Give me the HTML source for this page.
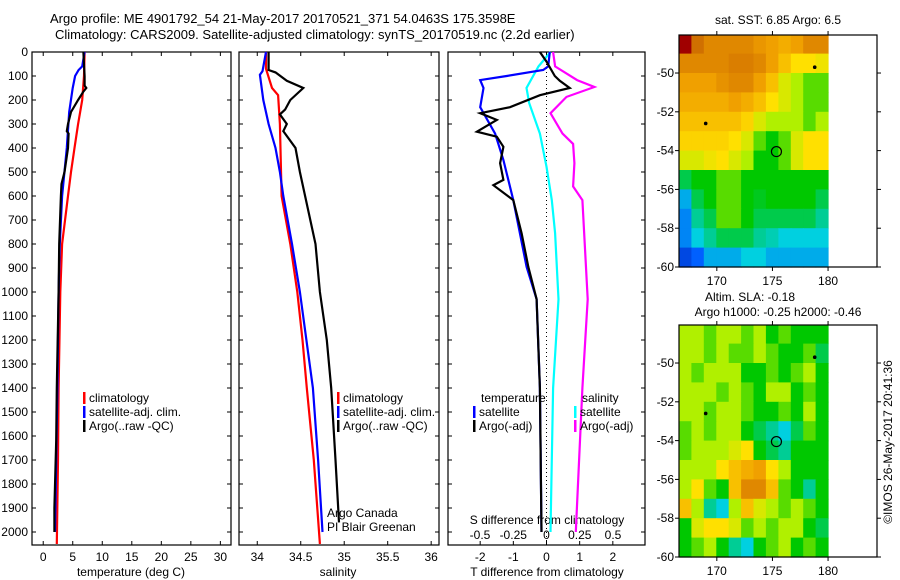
<!DOCTYPE html>
<html><head><meta charset="utf-8"><style>
body{margin:0;background:#fff;}
svg{display:block;font-family:"Liberation Sans",sans-serif;}
text{font-size:12px;fill:#000;}
</style></head><body>
<svg id="fig" width="900" height="580" viewBox="0 0 900 580">
<text x="50" y="23" style="font-size:13px">Argo profile: ME 4901792_54 21-May-2017 20170521_371 54.0463S 175.3598E</text>
<text x="55" y="39" style="font-size:13px">Climatology: CARS2009. Satellite-adjusted climatology: synTS_20170519.nc (2.2d earlier)</text>
<text x="892" y="442" transform="rotate(-90 892 442)" text-anchor="middle">©IMOS 26-May-2017 20:41:36</text>
</svg>
<script>
// ---------- data ----------
const depthTicks=[0,100,200,300,400,500,600,700,800,900,1000,1100,1200,1300,1400,1500,1600,1700,1800,1900,2000];
const tempTicks=[0,5,10,15,20,25,30];
const salTicks=[34,34.5,35,35.5,36];
const tdiffTicks=[-2,-1,0,1,2];
const sdiffTicks=[-0.5,-0.25,0,0.25,0.5];
const sdiffTickLabels=["-0.5","-0.25","0","0.25","0.5"];

const tClimDepth=[0,100,200,300,400,500,600,800,1000,1400,1700,2050];
const tClimVal=[7.0,6.9,6.6,5.9,5.3,4.7,4.2,3.2,2.9,2.6,2.5,2.3];
const tSatDepth=[0,60,75,100,150,250,400,600,800,1000,1400,1700,2000];
const tSatVal=[7.0,6.6,6.0,5.4,5.0,4.4,4.0,3.2,2.8,2.6,2.4,2.2,2.0];
const tArgoDepth=[0,100,140,150,165,200,250,300,330,340,400,500,550,600,800,1000,1400,1620,1900,2000];
const tArgoVal=[6.8,7.0,7.0,7.3,6.8,5.9,4.7,4.2,4.0,4.3,4.2,3.6,3.1,3.0,2.7,2.6,2.3,2.2,1.9,1.9];

const sClimDepth=[0,70,150,180,300,600,800,1000,1200,1400,1700,2050];
const sClimVal=[34.10,34.10,34.17,34.24,34.26,34.28,34.38,34.46,34.52,34.57,34.65,34.72];
const sSatDepth=[0,80,95,200,300,400,500,600,800,1000,1400,1700,2000];
const sSatVal=[34.10,34.06,34.03,34.07,34.13,34.21,34.26,34.30,34.40,34.49,34.64,34.70,34.75];
const sArgoDepth=[0,75,85,120,150,200,240,260,300,330,400,500,600,800,1000,1200,1400,1700,1960];
const sArgoVal=[34.13,34.13,34.21,34.34,34.53,34.38,34.32,34.26,34.34,34.30,34.44,34.49,34.55,34.67,34.72,34.80,34.85,34.90,34.94];

const dTSatDepth=[0,60,75,100,117,150,230,340,450,617,895,1030,1400,2000];
const dTSatVal=[0.1,0.05,-0.1,-1.2,-2.0,-1.9,-2.0,-1.55,-1.3,-1.0,-0.6,-0.3,-0.2,-0.15];
const dTArgoDepth=[0,40,100,120,150,180,230,255,283,332,353,395,463,533,555,617,755,895,1030,1400,2000];
const dTArgoVal=[-0.2,0,0.25,0.4,0.7,-0.2,-1.1,-2.0,-1.5,-2.1,-1.5,-1.3,-1.4,-1.3,-1.6,-1.0,-0.75,-0.55,-0.3,-0.2,-0.15];
const dSSatDepth=[0,60,150,213,340,478,617,755,1030,1400,2000];
const dSSatVal=[0.03,-0.06,-0.15,-0.13,-0.05,0,0.04,0.065,0.09,0.05,0.03];
const dSArgoDepth=[0,60,117,146,187,255,340,383,463,560,617,1030,1400,2000];
const dSArgoVal=[0.05,0.065,0.23,0.36,0.15,0.03,0.12,0.2,0.21,0.2,0.27,0.31,0.27,0.22];

const mapLonTicks=[170,175,180];
const mapLatTicks=[-50,-52,-54,-56,-58,-60];
const gridLats=[-48,-49,-50,-51,-52,-53,-54,-55,-56,-57,-58,-59];
const sstGrid=[
[1,0.9,0.85,0.85,0.85,0.85,0.82,0.8,0.78,0.8,0.85,0.85],
[0.85,0.85,0.85,0.85,0.87,0.87,0.85,0.8,0.75,0.7,0.7,0.68],
[0.8,0.8,0.8,0.83,0.85,0.85,0.8,0.75,0.65,0.6,0.55,0.55],
[0.78,0.78,0.78,0.78,0.8,0.78,0.75,0.7,0.65,0.6,0.55,0.55],
[0.75,0.75,0.75,0.75,0.75,0.72,0.65,0.6,0.6,0.6,0.55,0.6],
[0.72,0.72,0.72,0.72,0.7,0.65,0.55,0.5,0.55,0.65,0.7,0.7],
[0.65,0.65,0.68,0.7,0.65,0.6,0.5,0.5,0.55,0.65,0.7,0.7],
[0.45,0.5,0.5,0.55,0.55,0.5,0.5,0.5,0.5,0.5,0.5,0.5],
[0.3,0.45,0.5,0.55,0.55,0.5,0.48,0.5,0.5,0.5,0.5,0.45],
[0.25,0.4,0.45,0.55,0.55,0.5,0.45,0.45,0.45,0.45,0.45,0.4],
[0.25,0.35,0.4,0.45,0.45,0.45,0.4,0.38,0.35,0.35,0.35,0.35],
[0.15,0.2,0.3,0.3,0.3,0.35,0.35,0.3,0.3,0.3,0.3,0.3]];
const slaGrid=[
[0.6,0.6,0.55,0.6,0.6,0.55,0.6,0.5,0.55,0.5,0.5,0.5],
[0.6,0.6,0.55,0.6,0.55,0.55,0.6,0.55,0.5,0.5,0.55,0.45],
[0.6,0.55,0.6,0.6,0.6,0.5,0.5,0.55,0.5,0.55,0.6,0.5],
[0.6,0.6,0.6,0.55,0.6,0.55,0.5,0.6,0.6,0.5,0.55,0.5],
[0.6,0.6,0.55,0.6,0.6,0.55,0.5,0.5,0.55,0.5,0.6,0.5],
[0.55,0.6,0.55,0.6,0.6,0.5,0.45,0.4,0.35,0.45,0.55,0.5],
[0.55,0.6,0.6,0.6,0.65,0.7,0.5,0.45,0.4,0.5,0.5,0.5],
[0.6,0.6,0.6,0.7,0.75,0.78,0.8,0.7,0.6,0.5,0.5,0.5],
[0.6,0.7,0.55,0.5,0.75,0.85,0.85,0.75,0.55,0.5,0.4,0.5],
[0.75,0.6,0.4,0.35,0.6,0.75,0.65,0.6,0.55,0.6,0.55,0.5],
[0.5,0.65,0.7,0.7,0.65,0.55,0.6,0.55,0.6,0.6,0.5,0.45],
[0.5,0.55,0.6,0.5,0.4,0.35,0.5,0.55,0.6,0.5,0.55,0.5]];
const floatLons=[169.0,178.8];
const floatLats=[-52.6,-49.7];
const argoLon=175.36, argoLat=-54.05;

// ---------- helpers ----------
const NS="http://www.w3.org/2000/svg";
const svg=document.getElementById('fig');
function mk(tag,attrs,parent){const e=document.createElementNS(NS,tag);for(const k in attrs)e.setAttribute(k,attrs[k]);(parent||svg).appendChild(e);return e;}
function txt(x,y,s,anchor,parent){const t=mk('text',{x:x,y:y,'text-anchor':anchor||'start'},parent);t.textContent=s;return t;}

const Y0=52, YPX=0.24, PB=545;
const yD=d=>Y0+d*YPX;
const panels=[
 {x0:32,x1:231,lo:-1.9,hi:31.8,name:'temperature'},
 {x0:239,x1:439,lo:33.79,hi:36.09,name:'salinity'},
 {x0:448,x1:645,lo:-2.97,hi:2.97,name:'difference'}];
function xs(p,v){return p.x0+(v-p.lo)/(p.hi-p.lo)*(p.x1-p.x0);}
const sdx=v=>546.5+v*133;

function line(depths,vals,xf,color,name,parent){
 const pts=depths.map((d,i)=>xf(vals[i]).toFixed(1)+','+yD(d).toFixed(1)).join(' ');
 const l=mk('polyline',{points:pts,fill:'none',stroke:color,'stroke-width':2.2},parent);
 
 
}

panels.forEach((p,i)=>{
 const g=mk('g',{});
 
 
 mk('rect',{x:p.x0,y:Y0,width:p.x1-p.x0,height:PB-Y0,fill:'none',stroke:'#000','stroke-width':1.2},g);
 depthTicks.forEach(d=>{mk('line',{x1:p.x0,x2:p.x0+4,y1:yD(d),y2:yD(d),stroke:'#000'},g);mk('line',{x1:p.x1-4,x2:p.x1,y1:yD(d),y2:yD(d),stroke:'#000'},g);});
 p.g=g;
});
depthTicks.forEach(d=>{const t=txt(28,yD(d)+4,String(d),'end');
 
 });

function xTicks(p,vals,labels,xf){
 vals.forEach((v,i)=>{const x=xf(v);
  mk('line',{x1:x,x2:x,y1:Y0,y2:Y0+4,stroke:'#000'},p.g);
  mk('line',{x1:x,x2:x,y1:PB-4,y2:PB,stroke:'#000'},p.g);
  const t=txt(x,561,labels[i],'middle',p.g);
  
  });
}
xTicks(panels[0],tempTicks,tempTicks.map(String),v=>xs(panels[0],v));
xTicks(panels[1],salTicks,salTicks.map(String),v=>xs(panels[1],v));
xTicks(panels[2],tdiffTicks,tdiffTicks.map(String),v=>xs(panels[2],v));
sdiffTicks.forEach((v,i)=>{const t=txt(sdx(v),539,sdiffTickLabels[i],'middle',panels[2].g);
 
 });

[['temperature (deg C)',131],['salinity',338],['T difference from climatology',547]].forEach(a=>{
 const t=txt(a[1],576,a[0],'middle');
 
 });
const st=txt(547,524,'S difference from climatology','middle');



const zl=mk('line',{x1:546.5,x2:546.5,y1:Y0,y2:PB,stroke:'#000','stroke-dasharray':'1,3'});



const P0=panels[0],P1=panels[1],P2=panels[2];
line(tClimDepth,tClimVal,v=>xs(P0,v),'#f00','temp-climatology');
line(tSatDepth,tSatVal,v=>xs(P0,v),'#00f','temp-satellite');
line(tArgoDepth,tArgoVal,v=>xs(P0,v),'#000','temp-argo');
line(sClimDepth,sClimVal,v=>xs(P1,v),'#f00','sal-climatology');
line(sSatDepth,sSatVal,v=>xs(P1,v),'#00f','sal-satellite');
line(sArgoDepth,sArgoVal,v=>xs(P1,v),'#000','sal-argo');
line(dSSatDepth,dSSatVal,sdx,'#0ff','sdiff-satellite');
line(dSArgoDepth,dSArgoVal,sdx,'#f0f','sdiff-argo');
line(dTSatDepth,dTSatVal,v=>xs(P2,v),'#00f','tdiff-satellite');
line(dTArgoDepth,dTArgoVal,v=>xs(P2,v),'#000','tdiff-argo');

function legend(x,y,color,label){const g=mk('g',{});
 
 
 if(color)mk('rect',{x:x,y:y-10,width:2.5,height:12,fill:color},g);
 txt(x+(color?6:0),y,label,'start',g);}
[[0,'#f00','climatology'],[14,'#00f','satellite-adj. clim.'],[28,'#000','Argo(..raw -QC)']].forEach(a=>{
 legend(83,402+a[0],a[1],a[2]);legend(337,402+a[0],a[1],a[2]);});
legend(481,402,null,'temperature');legend(473,416,'#00f','satellite');legend(473,430,'#000','Argo(-adj)');
legend(582,402,null,'salinity');legend(574,416,'#0ff','satellite');legend(574,430,'#f0f','Argo(-adj)');
const c1=txt(327,517,'Argo Canada');
const c2=txt(327,531,'PI Blair Greenan');

// ---------- maps ----------
const cstops=[[0,[0,0,140]],[0.2,[0,96,255]],[0.35,[0,208,224]],[0.5,[0,200,0]],[0.6,[176,240,0]],[0.7,[255,224,0]],[0.8,[240,160,0]],[0.9,[208,112,0]],[1,[160,0,0]]];
function cmap(v){for(let i=1;i<cstops.length;i++){if(v<=cstops[i][0]){const a=cstops[i-1],b=cstops[i];const t=(v-a[0])/(b[0]-a[0]);
 return 'rgb('+a[1].map((c,k)=>Math.round(c+(b[1][k]-c)*t)).join(',')+')';}}return 'rgb(160,0,0)';}
const LON0=166.6,LON1=184.4,LAT0=-48.04,LAT1=-60;
function drawMap(top,bottom,grid,name,titles){
 const g=mk('g',{});
 
 
 const X0=679,X1=877;
 const mx=lon=>X0+(lon-LON0)/(LON1-LON0)*(X1-X0);
 const my=lat=>top+(lat-LAT0)/(LAT1-LAT0)*(bottom-top);
 const nc=grid[0].length, dl=(180-LON0)/nc;
 grid.forEach((row,r)=>row.forEach((v,c)=>{
  const x=mx(LON0+c*dl), y=my(Math.min(gridLats[r],LAT0));
  const cell=mk('rect',{x:x.toFixed(1),y:y.toFixed(1),width:(mx(LON0+(c+1)*dl)-x+0.6).toFixed(1),height:(my(gridLats[r]-1)-y+0.6).toFixed(1),fill:cmap(v)},g);
  
  
 }));
 mk('rect',{x:X0,y:top,width:X1-X0,height:bottom-top,fill:'none',stroke:'#000','stroke-width':1.2},g);
 mapLonTicks.forEach(l=>{const x=mx(l);mk('line',{x1:x,x2:x,y1:top-4,y2:top,stroke:'#000'},g);mk('line',{x1:x,x2:x,y1:bottom,y2:bottom+4,stroke:'#000'},g);
  const t=txt(x,bottom+18,String(l),'middle',g);});
 mapLatTicks.forEach(l=>{const y=my(l);mk('line',{x1:X0-4,x2:X0,y1:y,y2:y,stroke:'#000'},g);mk('line',{x1:X1,x2:X1+4,y1:y,y2:y,stroke:'#000'},g);
  const t=txt(674,y+4,String(l),'end',g);});
 floatLons.forEach((l,i)=>{const d=mk('circle',{cx:mx(l),cy:my(floatLats[i]),r:1.8,fill:'#000'},g);});
 const c=mk('circle',{cx:mx(argoLon),cy:my(argoLat),r:5,fill:'none',stroke:'#000','stroke-width':1.2},g);
 
 
 titles.forEach(a=>{const t=txt(a[0],a[1],a[2],'middle',g);});
}
drawMap(35,267,sstGrid,'sst-map',[[778,24,'sat. SST: 6.85 Argo: 6.5']]);
drawMap(325,557,slaGrid,'sla-map',[[750,301,'Altim. SLA: -0.18'],[778,316,'Argo h1000: -0.25 h2000: -0.46']]);
</script>
</body></html>
